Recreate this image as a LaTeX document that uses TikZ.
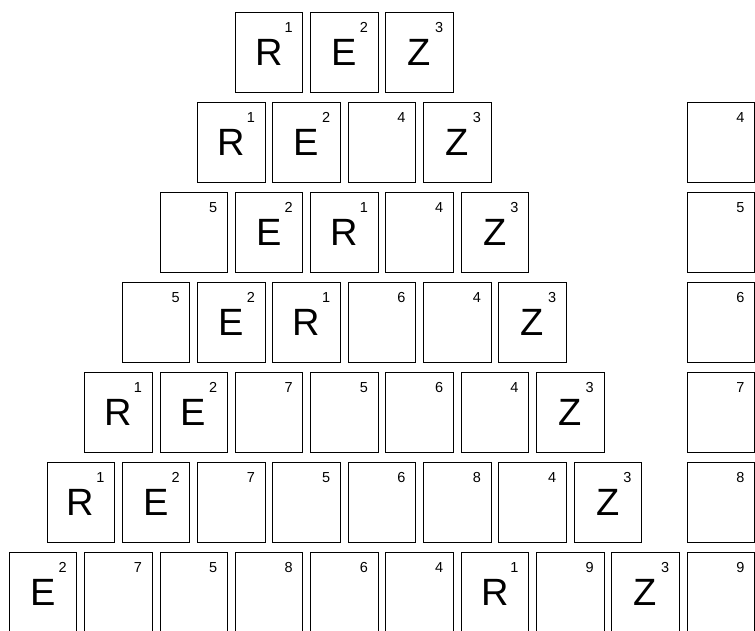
\documentclass[tikz,border=0pt]{standalone}
\usepackage{fontspec}
\setmainfont{Liberation Sans}
\tikzset{
  tile/.style={draw, line width=0.8pt, minimum width=67.5pt, minimum height=80pt, inner sep=0pt,
    font=\fontsize{38}{38}\selectfont},
  num/.style={inner sep=0pt, font=\fontsize{14.5}{14.5}\selectfont}
}
\newcommand{\tilerow}[2]{%
  \foreach \lt/\nm [count=\j from 0] in {#2} {
    \node[tile] (t-#1-\j) at ({43.05+37.65*(7-#1)+75.3*\j},{577.5-90*(#1-1)}) {\lt};
    \node[num] (n-#1-\j) at ([shift={(19.6,25)}]t-#1-\j.center) {\nm};
  }}

\begin{document}
\begin{tikzpicture}[x=1pt, y=1pt]
    \useasboundingbox (0,0) rectangle (755,630);
    \tilerow{1}{R/1,E/2,Z/3}
    \tilerow{2}{R/1,E/2,{}/4,Z/3}
    \tilerow{3}{{}/5,E/2,R/1,{}/4,Z/3}
    \tilerow{4}{{}/5,E/2,R/1,{}/6,{}/4,Z/3}
    \tilerow{5}{R/1,E/2,{}/7,{}/5,{}/6,{}/4,Z/3}
    \tilerow{6}{R/1,E/2,{}/7,{}/5,{}/6,{}/8,{}/4,Z/3}
    \tilerow{7}{E/2,{}/7,{}/5,{}/8,{}/6,{}/4,R/1,{}/9,Z/3}
    \foreach \r in {2,...,7} {
        \pgfmathtruncatemacro{\cn}{\r+2}
        \node[tile] (c-\r) at (720.75,{577.5-90*(\r-1)}) {};
        \node[num] (m-\r) at ([shift={(19.6,25)}]c-\r.center) {\cn};
    }
\end{tikzpicture}
\end{document}
